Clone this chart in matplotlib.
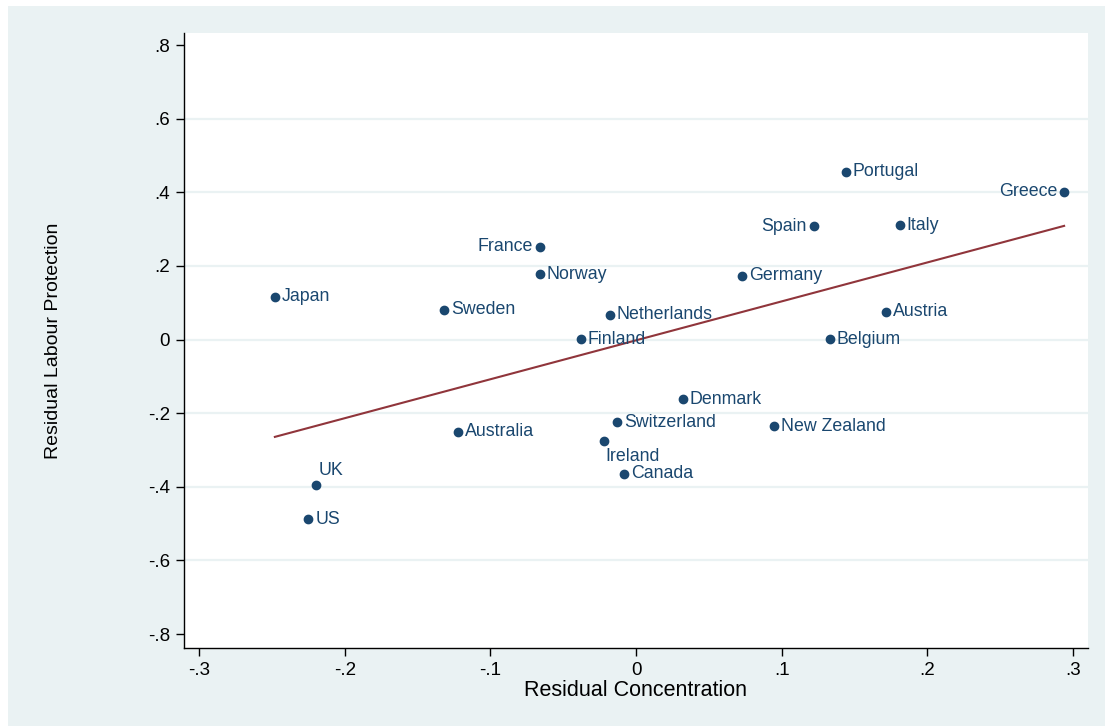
import matplotlib

matplotlib.use("Agg")
import matplotlib.pyplot as plt
import numpy as np
from matplotlib.patches import Rectangle

plt.rcParams["font.family"] = ["Liberation Sans", "DejaVu Sans"]

countries = [
    "Japan", "France", "Norway", "Sweden", "Netherlands", "Finland",
    "Portugal", "Greece", "Spain", "Italy", "Germany", "Austria",
    "Belgium", "Denmark", "Switzerland", "Australia", "New Zealand",
    "Ireland", "Canada", "UK", "US",
]
resid_conc = [
    -0.248, -0.066, -0.066, -0.132, -0.018, -0.038,
    0.144, 0.294, 0.122, 0.181, 0.073, 0.172,
    0.133, 0.032, -0.013, -0.122, 0.095,
    -0.022, -0.008, -0.220, -0.225,
]
resid_prot = [
    0.116, 0.252, 0.178, 0.081, 0.068, 0.001,
    0.456, 0.401, 0.308, 0.311, 0.173, 0.076,
    0.001, -0.162, -0.224, -0.250, -0.235,
    -0.275, -0.364, -0.395, -0.488,
]
# marker label position (clock position, Stata style)
label_pos = {
    "France": 9, "Spain": 9, "Greece": 9, "UK": 1, "Ireland": 5,
}

xticks = [-0.3, -0.2, -0.1, 0, 0.1, 0.2, 0.3]
yticks = [-0.8, -0.6, -0.4, -0.2, 0, 0.2, 0.4, 0.6, 0.8]


def stata_fmt(v):
    if abs(v) < 1e-9:
        return "0"
    s = f"{v:.1f}"
    return s.replace("0.", ".")


navy = "#1a476f"
maroon = "#90353b"
bg = "#eaf2f3"

fig = plt.figure(figsize=(11.05, 7.26), dpi=100, facecolor="white")
fig.patches.append(Rectangle((8 / 1105, 0), 1, 720 / 726, transform=fig.transFigure,
                             facecolor=bg, edgecolor="none", zorder=-10))
ax = fig.add_axes([184 / 1105, 1 - 648 / 726, 904 / 1105, 615 / 726])
ax.set_facecolor("white")

x = np.array(resid_conc)
y = np.array(resid_prot)

for yv in yticks[1:-1]:
    ax.axhline(yv, color=bg, linewidth=1.6, zorder=0)

ax.plot(x, y, "o", color=navy, markersize=6, zorder=3)

slope, intercept = np.polyfit(x, y, 1)
xs = np.array([x.min(), x.max()])
ax.plot(xs, intercept + slope * xs, color=maroon, linewidth=1.5, zorder=2)

offsets = {
    3: ((5, 0), "left", "center"),
    9: ((-5, 0), "right", "center"),
    1: ((2, 4), "left", "bottom"),
    5: ((1, -5), "left", "top"),
}
for name, xv, yv in zip(countries, resid_conc, resid_prot):
    (dx, dy), ha, va = offsets[label_pos.get(name, 3)]
    ax.annotate(name, (xv, yv), xytext=(dx, dy), textcoords="offset points",
                ha=ha, va=va, color=navy, fontsize=12.8)

ax.set_xlim(-0.3104, 0.3104)
ax.set_ylim(-0.838, 0.833)
ax.set_xticks(xticks)
ax.set_xticklabels([stata_fmt(v) for v in xticks])
ax.set_yticks(yticks)
ax.set_yticklabels([stata_fmt(v) for v in yticks])
ax.tick_params(axis="both", direction="out", length=6, width=1, color="black",
               labelsize=13.5, pad=4)

for side in ("top", "right"):
    ax.spines[side].set_visible(False)
for side in ("left", "bottom"):
    ax.spines[side].set_linewidth(1)
    ax.spines[side].set_color("black")

ax.set_xlabel("Residual Concentration", fontsize=15.5, labelpad=1)
ax.set_ylabel("Residual Labour Protection", fontsize=14, labelpad=62)

fig.savefig("out.png", dpi=100, facecolor=fig.get_facecolor())
